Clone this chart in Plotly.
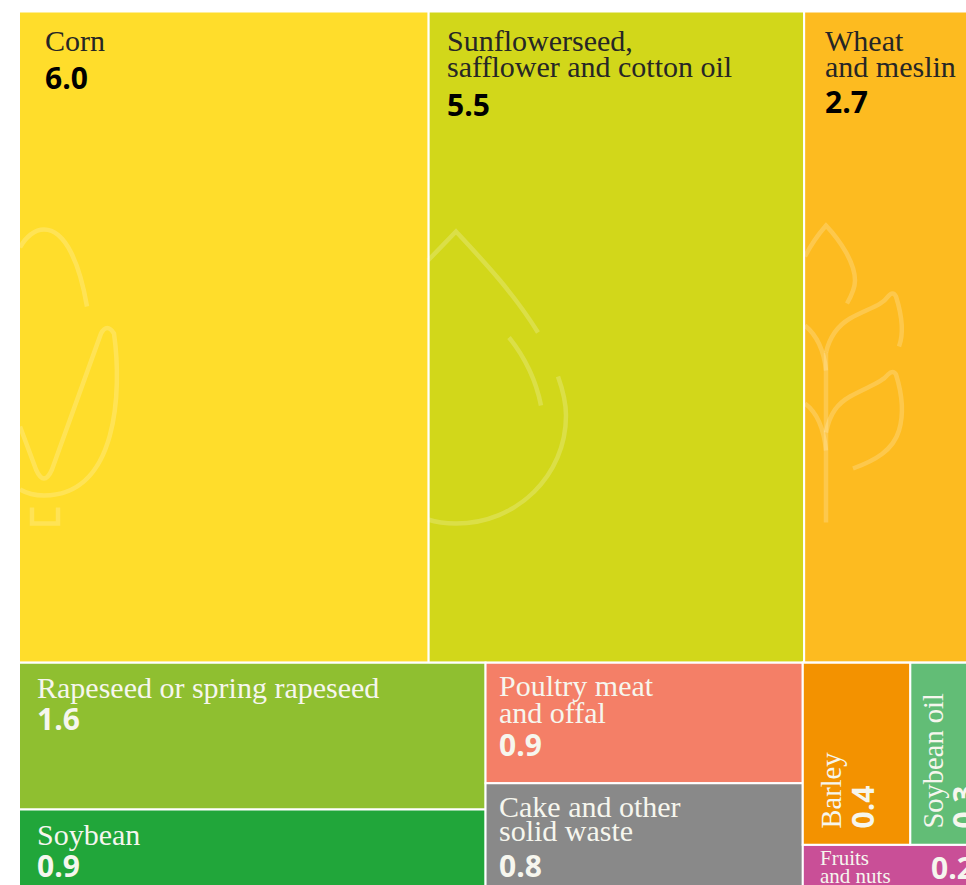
import plotly.graph_objects as go

# ---- data (cell areas give the second decimal)
categories = ["Corn", "Sunflowerseed, safflower and cotton oil", "Wheat and meslin",
              "Rapeseed or spring rapeseed", "Soybean",
              "Poultry meat and offal", "Cake and other solid waste",
              "Barley", "Soybean oil", "Fruits and nuts"]
values = [6.0, 5.5, 2.7, 1.54, 0.96, 0.86, 0.84, 0.44, 0.32, 0.235]
groups = ["top", "top", "top", "col1", "col1", "col2", "col2", "row3", "row3", "col3"]
colors = ["#FFDD2B", "#D2D71A", "#FDBB20", "#8FBF30", "#21A63A",
          "#F47F67", "#898989", "#F39200", "#62BD76", "#C94F97"]
group_names = ["root", "top", "bottom", "col1", "col2", "col3", "row3"]
group_parents = ["", "root", "root", "bottom", "bottom", "bottom", "col3"]

# ---- canvas geometry in page pixels (page margin is removed below)
W, H = 1040, 930
OFF_X, OFF_Y = 1, 0.5


def px(x):
    return (x - OFF_X) / W


def py(y):
    return 1 - (y - OFF_Y) / H


X0, X1, Y0, Y1 = 20, 989.5, 12, 901.5

fig = go.Figure(go.Treemap(
    ids=group_names + categories,
    labels=group_names + categories,
    parents=group_parents + groups,
    values=[0] * len(group_names) + values,
    branchvalues="remainder",
    sort=False,
    textinfo="none",
    hoverinfo="skip",
    domain=dict(x=[px(X0), px(X1)], y=[py(Y1), py(Y0)]),
    tiling=dict(packing="dice-slice", pad=0),
    pathbar=dict(visible=False),
    marker=dict(colors=["#ffffff"] * len(group_names) + colors,
                line=dict(color="#ffffff", width=2),
                pad=dict(t=0, l=0, r=0, b=0)),
))

# ---- labels
SERIF, BOLD = "Liberation Serif", "Open Sans"
DARK, LIGHT = "#262626", "#f6f6ee"
name_lines = [
    ("Corn", 45, 41, DARK, 30), ("Sunflowerseed,", 447, 41, DARK, 30),
    ("safflower and cotton oil", 447, 67, DARK, 30),
    ("Wheat", 825, 41, DARK, 30), ("and meslin", 825, 67, DARK, 30),
    ("Rapeseed or spring rapeseed", 37, 688, LIGHT, 30),
    ("Soybean", 37, 835, LIGHT, 30),
    ("Poultry meat", 499, 686, LIGHT, 30), ("and offal", 499, 713, LIGHT, 30),
    ("Cake and other", 499, 807, LIGHT, 30), ("solid waste", 499, 831, LIGHT, 30),
    ("Fruits", 820, 858, LIGHT, 21), ("and nuts", 820, 876, LIGHT, 21),
]
value_labels = [
    ("6.0", 45, 78, "#000000"), ("5.5", 447, 105, "#000000"), ("2.7", 825, 102, "#000000"),
    ("1.6", 37, 719, LIGHT), ("0.9", 37, 866, LIGHT), ("0.9", 499, 745, LIGHT),
    ("0.8", 499, 866, LIGHT), ("0.2", 931, 868, LIGHT),
]
rotated = [("Barley", 815, SERIF, 28.5, False), ("0.4", 841, BOLD, 30, True),
           ("Soybean oil", 917, SERIF, 28.5, False), ("0.3", 942, BOLD, 30, True)]

for text, x, y, color, size in name_lines:
    fig.add_annotation(xref="paper", yref="paper", x=px(x), y=py(y), text=text, showarrow=False,
                       xanchor="left", yanchor="middle", borderpad=0,
                       font=dict(family=SERIF, size=size, color=color))
for text, x, y, color in value_labels:
    fig.add_annotation(xref="paper", yref="paper", x=px(x), y=py(y), text=text, showarrow=False,
                       xanchor="left", yanchor="middle", borderpad=0,
                       font=dict(family=BOLD, size=30, color=color, weight=700))
for text, x, fam, size, bold in rotated:
    fig.add_annotation(xref="paper", yref="paper", x=px(x), y=py(830), text=text, showarrow=False,
                       textangle=-90, xanchor="left", yanchor="bottom", borderpad=0,
                       font=dict(family=fam, size=size, color=LIGHT, weight=700 if bold else 400))

# ---- faint decorative icons, outlined in page pixels
icons = [
    [("M", 20, 247), ("C", 26, 236, 35, 229, 44, 229), ("C", 66, 229, 80, 265, 87, 306)],
    [("M", 20, 426), ("L", 36, 469), ("Q", 44, 487, 52, 469), ("L", 101, 333), ("Q", 107, 322, 114, 333),
     ("C", 122, 390, 118, 495, 44, 495), ("C", 35, 495, 27, 493, 20, 489)],
    [("M", 32, 507), ("L", 32, 523), ("L", 58, 523), ("L", 58, 507)],
    [("M", 428, 260), ("L", 456, 231), ("C", 480, 257, 512, 290, 538, 332)],
    [("M", 509, 337), ("C", 525, 357, 536, 380, 541, 405)],
    [("M", 558, 376), ("C", 563, 390, 566, 402, 566, 415), ("C", 566, 475, 517, 523, 456, 523),
     ("C", 446, 523, 437, 522, 428, 519)],
    [("M", 805, 256), ("Q", 813, 240, 826, 225), ("C", 840, 240, 855, 262, 855, 280),
     ("C", 855, 288, 851, 296, 847, 303)],
    [("M", 826, 352), ("C", 830, 335, 838, 325, 850, 318), ("C", 868, 308, 882, 305, 888, 296),
     ("Q", 893, 290, 896, 296), ("C", 901, 312, 905, 330, 899, 346)],
    [("M", 805, 325), ("C", 817, 335, 824, 350, 826, 370)],
    [("M", 826, 352), ("L", 826, 522)],
    [("M", 826, 432), ("C", 830, 412, 838, 403, 850, 396), ("C", 868, 386, 882, 382, 888, 374),
     ("Q", 893, 369, 896, 374), ("C", 901, 390, 905, 410, 899, 430), ("C", 893, 450, 875, 460, 853, 468)],
    [("M", 805, 403), ("C", 817, 412, 824, 430, 826, 450)],
]
for icon in icons:
    parts = []
    for cmd, *c in icon:
        pts = [f"{px(c[i] + 1):.5f},{py(c[i + 1] + 1):.5f}" for i in range(0, len(c), 2)]
        parts.append(cmd + " ".join(pts))
    fig.add_shape(type="path", xref="paper", yref="paper", path=" ".join(parts),
                  line=dict(color="rgba(255,255,255,0.2)", width=4.5), layer="above")

fig.update_layout(width=W, height=H, margin=dict(l=0, r=0, t=0, b=0),
                  paper_bgcolor="#ffffff", showlegend=False)
fig.write_html("out.html", config=dict(displayModeBar=False),
               post_script="document.body.style.margin='0';document.documentElement.style.overflow='hidden';")
